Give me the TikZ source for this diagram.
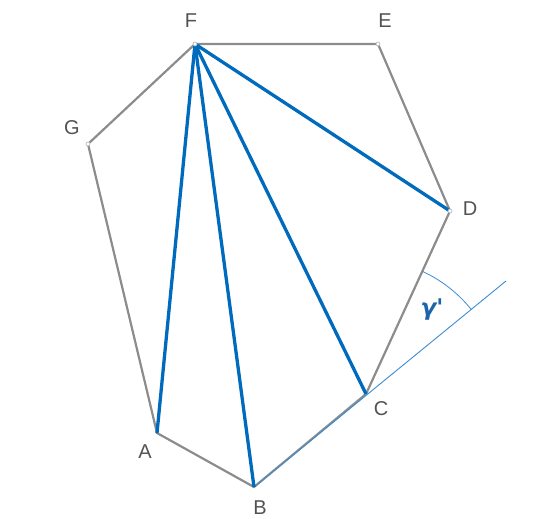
\documentclass[tikz,border=0pt]{standalone}
\usepackage{fontspec}
\setmainfont{Liberation Sans}
\newfontfamily\dvfont{DejaVu Sans}
\begin{document}
\begin{tikzpicture}[x=1pt,y=-1pt,
  edge/.style={draw=black!45,line width=2.2pt},
  diag/.style={draw={rgb,255:red,0;green,107;blue,189},line width=3.3pt},
  thin/.style={draw={rgb,255:red,60;green,140;blue,210},line width=0.9pt},
  vert/.style={circle,draw=black!30,fill=white,inner sep=0pt,minimum size=4pt,line width=0.6pt},
  lbl/.style={text=black!68,font=\fontsize{20}{20}\selectfont}]
\useasboundingbox (0,0) rectangle (549,519);
\coordinate (F) at (195,44);
\coordinate (E) at (378,44);
\coordinate (G) at (88,144);
\coordinate (D) at (450,211);
\coordinate (C) at (366,394);
\coordinate (A) at (157,433);
\coordinate (B) at (254,487);
\coordinate (X) at (506,281);
% polygon edges
\draw[edge] (F) -- (E) -- (D) -- (C);
\draw[edge] (F) -- (G) -- (A) -- (B) -- (C);
% extension
\draw[thin] (B) -- (X);
% angle arc
\draw[thin,line width=0.8pt] ([shift={(-38.9:135)}]C) arc[start angle=-38.9,end angle=-65.3,radius=135];
% diagonals
\draw[diag] (F) -- (A);
\draw[diag] (F) -- (B);
\draw[diag] (F) -- (C);
\draw[diag] (F) -- (D);
% vertices
\foreach \p in {F,E,G,D} \node[vert] at (\p) {};
% labels
\node[lbl] (lF) at (191,21) {F};
\node[lbl] (lE) at (385,21) {E};
\node[lbl] (lG) at (72,128) {G};
\node[lbl] (lD) at (470,209) {D};
\node[lbl] (lC) at (381,409) {C};
\node[lbl] (lA) at (145,452) {A};
\node[lbl] (lB) at (260,508) {B};
\node[text={rgb,255:red,30;green,100;blue,170},font=\dvfont\fontsize{23}{23}\selectfont\bfseries\itshape] (g) at (432,310) {γ'};
\end{tikzpicture}
\end{document}
